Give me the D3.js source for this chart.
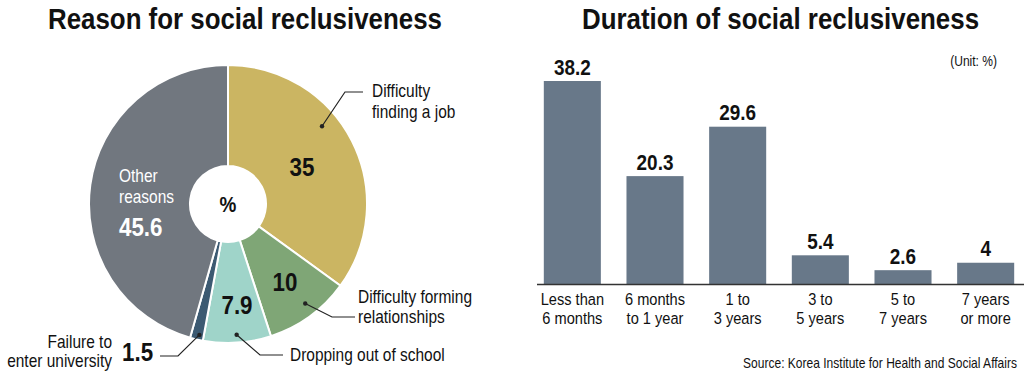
<!DOCTYPE html>
<html lang="en">
<head>
  <meta charset="UTF-8">
  <title>Social reclusiveness</title>
  <style>
    body { margin: 0; background: #fff; }
    svg { display: block; }
    text { font-family: "Liberation Sans", Arial, sans-serif; fill: #111; }
    .bold { font-weight: bold; }
  </style>
</head>
<body>
  <svg width="1024" height="374"></svg>
  <script src="https://d3js.org/d3.v7.min.js"></script>
  <script>
    // pie data
    const reasonLabels = ["Difficulty finding a job", "Difficulty forming relationships", "Dropping out of school", "Failure to enter university", "Other reasons"];
    const reasonValues = [35, 10, 7.9, 1.5, 45.6];
    const reasonColors = ["#cbb562", "#7fa676", "#9fd4c9", "#3c5a72", "#71777f"];

    // bar data
    const durationLabels = [["Less than", "6 months"], ["6 months", "to 1 year"], ["1 to", "3 years"], ["3 to", "5 years"], ["5 to", "7 years"], ["7 years", "or more"]];
    const durationValues = [38.2, 20.3, 29.6, 5.4, 2.6, 4];

    const svg = d3.select("svg");
    const NARROW = 0.86; // fake a condensed face

    // text helper: squeezes glyphs horizontally around the anchor point
    function txt(parent, x, y, str, o) {
      o = o || {};
      const t = parent.append("text")
        .attr("transform", `translate(${x},${y}) scale(${o.sx || NARROW},1)`)
        .attr("dy", "0.35em")
        .attr("text-anchor", o.anchor || "start")
        .style("font-size", (o.size || 17) + "px")
        .text(str);
      if (o.bold) t.attr("class", "bold");
      if (o.fill) t.style("fill", o.fill);
      if (o.width) {
        const w = t.node().getComputedTextLength();
        t.attr("transform", `translate(${x},${y}) scale(${o.width / w},1)`);
      }
      return t;
    }

    // titles
    txt(svg, 48, 18, "Reason for social reclusiveness", { size: 30, bold: true, width: 394 });
    txt(svg, 582, 18, "Duration of social reclusiveness", { size: 30, bold: true, width: 397 });

    // ---- donut ----
    const cx = 228, cy = 204, rOut = 139, rIn = 38;
    const pie = d3.pie().sort(null).value(d => d);
    const arcs = pie(reasonValues);
    const arc = d3.arc().innerRadius(rIn).outerRadius(rOut);

    const g = svg.append("g").attr("transform", `translate(${cx},${cy})`);
    g.selectAll("path").data(arcs).enter().append("path")
      .attr("d", arc)
      .attr("fill", (d, i) => reasonColors[i])
      .attr("stroke", "#fff")
      .attr("stroke-width", 2);

    txt(g, 0, 0, "%", { size: 22, bold: true, anchor: "middle" });

    // value labels inside slices
    const valPos = [[74, -37], [57, 78], [9, 101]];
    valPos.forEach((p, i) => {
      txt(g, p[0], p[1], reasonValues[i], { size: 26, bold: true, anchor: "middle" });
    });

    // other reasons (white, inside)
    txt(g, -109, -28, "Other", { size: 18, fill: "#fff" });
    txt(g, -109, -7, "reasons", { size: 18, fill: "#fff" });
    txt(g, -109, 23, reasonValues[4], { size: 26, bold: true, fill: "#fff" });

    // callouts: dot -> elbow -> end
    const dotAt = (i, frac, r) => {
      const a = arcs[i].startAngle + (arcs[i].endAngle - arcs[i].startAngle) * frac;
      return [Math.sin(a) * r, -Math.cos(a) * r];
    };
    const callouts = [
      { dot: dotAt(0, 0.4, 122), elbow: [117, -112], end: [135, -112] },
      { dot: dotAt(1, 0.45, 126), elbow: [104, 113], end: [127, 113] },
      { dot: dotAt(2, 0.5, 131), elbow: [32, 151], end: [55, 151] },
      { dot: dotAt(3, 0.35, 134), elbow: [-50, 152], end: [-68, 152] }
    ];
    callouts.forEach(c => {
      g.append("polyline")
        .attr("points", [c.dot, c.elbow, c.end].map(p => p.join(",")).join(" "))
        .attr("fill", "none").attr("stroke", "#222").attr("stroke-width", 1.2);
      g.append("circle").attr("cx", c.dot[0]).attr("cy", c.dot[1]).attr("r", 2.2).attr("fill", "#222");
    });

    txt(g, 144, -113, "Difficulty", { size: 18 });
    txt(g, 144, -92, "finding a job", { size: 18 });
    txt(g, 130, 93, "Difficulty forming", { size: 18 });
    txt(g, 130, 113, "relationships", { size: 18 });
    txt(g, 62, 151, "Dropping out of school", { size: 18 });
    txt(g, -116, 138, "Failure to", { size: 18, anchor: "end" });
    txt(g, -116, 157, "enter university", { size: 18, anchor: "end" });
    txt(g, -106, 148, reasonValues[3], { size: 26, bold: true });

    // ---- bars ----
    const base = 284;
    const x = d3.scaleBand()
      .domain(d3.range(durationValues.length))
      .range([531, 1027])
      .paddingInner(0.31).paddingOuter(0.155);
    const y = d3.scaleLinear().domain([0, 38.2]).range([base, 81]);

    svg.selectAll("rect.bar").data(durationValues).enter().append("rect")
      .attr("class", "bar")
      .attr("x", (d, i) => x(i))
      .attr("y", d => y(d))
      .attr("width", x.bandwidth())
      .attr("height", d => base - y(d))
      .attr("fill", "#687889");

    svg.append("line")
      .attr("x1", 537).attr("x2", 1024)
      .attr("y1", base + 0.5).attr("y2", base + 0.5)
      .attr("stroke", "#333").attr("stroke-width", 1.5);

    durationValues.forEach((d, i) => {
      txt(svg, x(i) + x.bandwidth() / 2, y(d) - 14, d, { size: 22, bold: true, anchor: "middle" });
    });

    durationLabels.forEach((lines, i) => {
      lines.forEach((t, j) => {
        txt(svg, x(i) + x.bandwidth() / 2, 299 + j * 19, t, { size: 17, anchor: "middle" });
      });
    });

    txt(svg, 997, 61, "(Unit: %)", { size: 14, anchor: "end" });
    txt(svg, 1017, 363, "Source: Korea Institute for Health and Social Affairs", { size: 14, anchor: "end", width: 274 });
  </script>
</body>
</html>
